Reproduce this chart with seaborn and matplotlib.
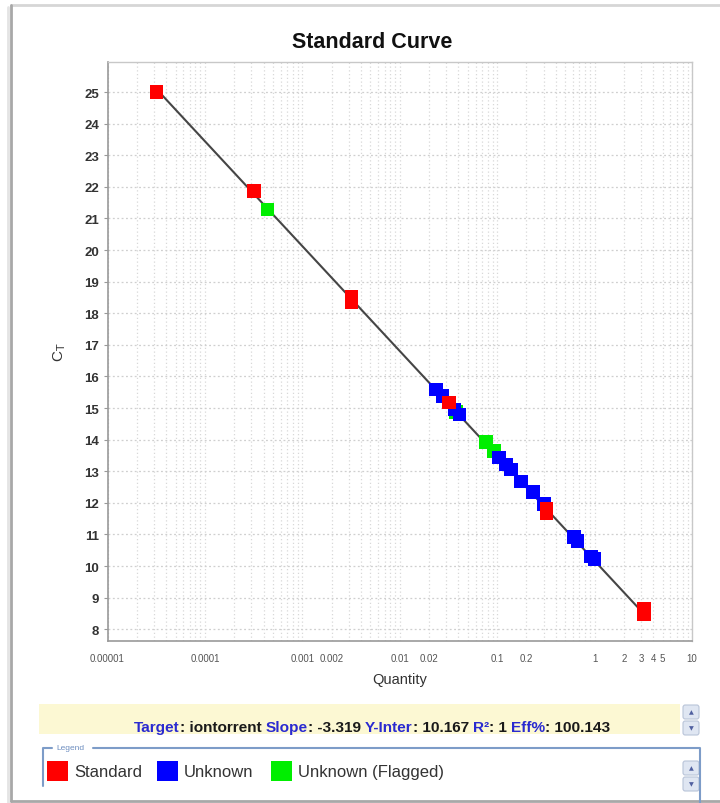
import numpy as np
import pandas as pd
import matplotlib
matplotlib.use('Agg')
import matplotlib.pyplot as plt
import seaborn as sns
from matplotlib.patches import Rectangle, FancyBboxPatch
from matplotlib.lines import Line2D
from matplotlib.ticker import FixedLocator, FixedFormatter, LogLocator, NullFormatter

# Standards (red)
std_qty = [3.2e-5, 3.2e-4, 3.2e-3, 3.2e-3, 0.032, 0.32, 0.32, 3.2, 3.2]
std_ct = [25.0, 21.86, 18.36, 18.52, 15.18, 11.66, 11.80, 8.49, 8.65]

# Unknowns (blue)
unk_qty = [0.0235, 0.0275, 0.0363, 0.041, 0.105, 0.123, 0.139, 0.176,
           0.233, 0.302, 0.616, 0.67, 0.92, 1.0]
unk_ct = [15.59, 15.38, 14.96, 14.80, 13.44, 13.22, 13.06, 12.68,
          12.34, 11.96, 10.92, 10.80, 10.31, 10.22]

# Unknowns flagged (green)
flag_qty = [4.4e-4, 0.038, 0.0767, 0.093]
flag_ct = [21.29, 14.87, 13.92, 13.64]

# Fit
slope = -3.319
y_inter = 10.167

x_ticks = [1e-5, 1e-4, 1e-3, 2e-3, 1e-2, 2e-2, 0.1, 0.2, 1, 2, 3, 4, 5, 10]
x_tick_labels = ['0.00001', '0.0001', '0.001', '0.002', '0.01', '0.02',
                 '0.1', '0.2', '1', '2', '3', '4', '5', '10']
y_ticks = list(range(8, 26))

groups = ['Standard', 'Unknown', 'Unknown (Flagged)']
colors = {'Standard': '#ff0000', 'Unknown': '#0000ff', 'Unknown (Flagged)': '#00ee00'}

summary = [('Target', True), (': iontorrent', False), ('Slope', True), (': -3.319', False),
           ('Y-Inter', True), (': 10.167', False), ('R²', True), (': 1', False),
           ('Eff%', True), (': 100.143', False)]

# Build data frame (flagged drawn first, standards on top)
df = pd.concat([
    pd.DataFrame({'qty': flag_qty, 'ct': flag_ct, 'task': 'Unknown (Flagged)'}),
    pd.DataFrame({'qty': unk_qty, 'ct': unk_ct, 'task': 'Unknown'}),
    pd.DataFrame({'qty': std_qty, 'ct': std_ct, 'task': 'Standard'}),
], ignore_index=True)

fit = pd.DataFrame({'qty': [min(std_qty), max(std_qty)]})
fit['ct'] = slope * np.log10(fit['qty']) + y_inter

sns.set_style('white')
plt.rcParams['font.family'] = ['Liberation Sans', 'DejaVu Sans']

W, H = 720, 804
fig = plt.figure(figsize=(W / 100, H / 100), dpi=100)


def fx(px):
    return px / W


def fy(py):
    return 1 - py / H


ax = fig.add_axes([fx(107.5), fy(642), (692 - 107.5) / W, (642 - 63) / H])

sns.lineplot(data=fit, x='qty', y='ct', ax=ax, color='#454545', linewidth=1.5, zorder=2)
sns.scatterplot(data=df, x='qty', y='ct', hue='task', palette=colors, marker='s',
                s=95, linewidth=0, ax=ax, legend=False, zorder=3)

ax.set_xscale('log')
ax.set_xlim(1e-5, 10)
ax.set_ylim(7.63, 25.95)
ax.xaxis.set_major_locator(FixedLocator(x_ticks))
ax.xaxis.set_major_formatter(FixedFormatter(x_tick_labels))
ax.xaxis.set_minor_locator(LogLocator(base=10, subs=np.arange(2, 10), numticks=20))
ax.xaxis.set_minor_formatter(NullFormatter())
ax.set_yticks(y_ticks)

ax.grid(True, which='both', axis='x', color='#d8d8d8', linestyle=(0, (1, 2)), linewidth=0.9)
ax.grid(True, which='major', axis='y', color='#cfcfcf', linestyle=(0, (1.5, 2)), linewidth=0.9)
ax.set_axisbelow(True)

ax.tick_params(axis='x', which='major', length=4, width=0.8, color='#999999',
               labelsize=7, labelcolor='#555555', pad=5, direction='out')
ax.tick_params(axis='x', which='minor', length=0)
ax.tick_params(axis='y', length=3, width=0.8, color='#999999', labelsize=9.5,
               labelcolor='#333333', pad=3, direction='out', left=True)
for lab in ax.get_yticklabels():
    lab.set_fontweight('bold')

for side in ['left', 'bottom']:
    ax.spines[side].set_color('#999999')
    ax.spines[side].set_linewidth(1.2)
for side in ['top', 'right']:
    ax.spines[side].set_color('#c8c8c8')
    ax.spines[side].set_linewidth(1.0)

ax.set_xlabel('Quantity', fontsize=10.5, color='#333333', labelpad=6)
ax.set_ylabel('C$_\\mathrm{T}$', fontsize=11, color='#333333', labelpad=12)

fig.text(fx(372), fy(42), 'Standard Curve', fontsize=15.5, fontweight='bold',
         ha='center', va='center', color='#111111')

# Window frame
fig.add_artist(Line2D([fx(11), fx(720)], [fy(6), fy(6)], color='#d6d6d6', linewidth=2))
fig.add_artist(Line2D([fx(11), fx(11)], [fy(6), fy(802)], color='#a8a8a8', linewidth=2))
fig.add_artist(Line2D([fx(11), fx(720)], [fy(802), fy(802)], color='#a8a8a8', linewidth=2))
fig.add_artist(Line2D([fx(8), fx(8)], [fy(8), fy(804)], color='#e4e4e4', linewidth=2))

# Summary band
fig.add_artist(Rectangle((fx(39), fy(735)), (680 - 39) / W, 30 / H, facecolor='#fcf8d3',
                         edgecolor='none', transform=fig.transFigure))


def scroll_buttons(ytop):
    for i, sym in enumerate(['▲', '▼']):
        y0 = ytop + i * 16
        fig.add_artist(FancyBboxPatch((fx(683), fy(y0 + 14)), 16 / W, 14 / H,
                                      boxstyle='round,pad=0,rounding_size=0.003',
                                      facecolor='#dfe6f2', edgecolor='#b8c4d8', linewidth=0.8,
                                      transform=fig.transFigure))
        fig.text(fx(691), fy(y0 + 7), sym, fontsize=4.5, color='#5060a0',
                 ha='center', va='center', family=['DejaVu Sans'])


scroll_buttons(706)
scroll_buttons(762)

renderer = fig.canvas.get_renderer()


def text_width(s, size):
    t = fig.text(0, 0, s, fontsize=size, fontweight='bold')
    w = t.get_window_extent(renderer).width
    t.remove()
    return w


base = 10
space = text_width('a a', base) - text_width('aa', base)
total = sum(text_width(s, base) for s, _ in summary) + space * 4
size = base * (612 - 134) / total
space = space * size / base
xpos = 134
for i, (s, is_label) in enumerate(summary):
    t = fig.text(fx(xpos), fy(732), s, fontsize=size, fontweight='bold',
                 color='#2a2ad0' if is_label else '#1a1a1a', ha='left', va='baseline')
    xpos += t.get_window_extent(renderer).width
    if not is_label:
        xpos += space

# Legend box
leg_col = '#7d9cc8'
fig.add_artist(Line2D([fx(43), fx(43), fx(52)], [fy(787), fy(749), fy(749)],
                      color=leg_col, linewidth=1.5))
fig.add_artist(Line2D([fx(93), fx(700), fx(700)], [fy(749), fy(749), fy(804)],
                      color=leg_col, linewidth=1.5))
fig.text(fx(56), fy(749), 'Legend', fontsize=6, color='#6f8fc0', ha='left', va='center')

leg_x = [47, 157, 271]
for g, x0 in zip(groups, leg_x):
    fig.add_artist(Rectangle((fx(x0), fy(782)), 21 / W, 20 / H, facecolor=colors[g],
                             edgecolor='none', transform=fig.transFigure))
    fig.text(fx(x0 + 27), fy(773), g, fontsize=12, color='#333333', ha='left', va='center')

fig.savefig('out.png', dpi=100)
